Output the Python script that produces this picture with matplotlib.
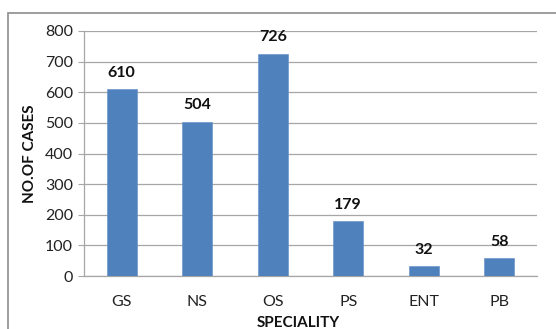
import matplotlib
matplotlib.use("Agg")
import matplotlib.pyplot as plt
from matplotlib.patches import Rectangle

categories = ["GS", "NS", "OS", "PS", "ENT", "PB"]
values = [610, 504, 726, 179, 32, 58]
yticks = [0, 100, 200, 300, 400, 500, 600, 700, 800]

plt.rcParams['font.family'] = ['Lato', 'DejaVu Sans']

W, H = 556, 329
fig = plt.figure(figsize=(W/100, H/100), dpi=100)
fig.patch.set_facecolor("white")

# outer frame
fig.patches.append(Rectangle((8/W, -0.05), 1.1, 1 - 13/H + 0.05, transform=fig.transFigure,
                             fill=False, edgecolor="#8c8c8c", linewidth=1.2, clip_on=False))

ax = fig.add_axes([84/W, 1 - 276/H, (537-84)/W, (276-31)/H])
x = list(range(len(categories)))
ax.bar(x, values, width=0.4, color="#4F81BD", edgecolor="#6d97cc", linewidth=0.5, zorder=3)
ax.set_xlim(-0.5, len(categories) - 0.5)
ax.set_ylim(0, 800)
ax.set_yticks(yticks)
ax.set_xticks(x)
ax.set_xticklabels(categories)
ax.yaxis.grid(True, color="#a6a6a6", linewidth=0.9, zorder=0)
for s in ["top", "right"]:
    ax.spines[s].set_visible(False)
for s in ["left", "bottom"]:
    ax.spines[s].set_color("#a6a6a6")
    ax.spines[s].set_linewidth(0.9)
ax.tick_params(axis="y", length=4, color="#a6a6a6", labelsize=11.5, pad=4, labelcolor="#222222")
ax.tick_params(axis="x", length=0, labelsize=11.5, pad=14, labelcolor="#222222")

for xi, v in zip(x, values):
    ax.text(xi, v + 30, str(v), ha="center", va="bottom", fontsize=11.5, fontweight="bold", color="#111111")

fig.text(30/W, 1 - 154/H, "NO.OF CASES", rotation=90, ha="center", va="center",
         fontsize=11, fontweight="bold", color="#111111")
fig.text(298/W, 1 - 323/H, "SPECIALITY", ha="center", va="center",
         fontsize=11, fontweight="bold", color="#111111")

fig.savefig("out.png", dpi=100, facecolor="white")
